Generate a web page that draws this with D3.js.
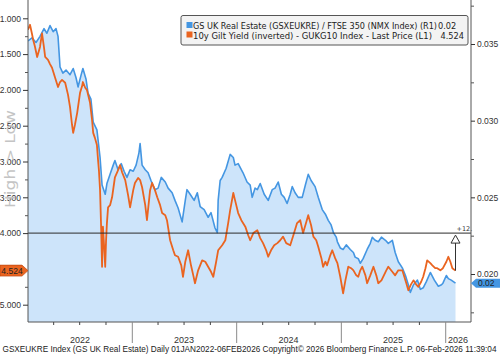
<!DOCTYPE html>
<html><head><meta charset="utf-8">
<script src="https://cdn.jsdelivr.net/npm/d3@7"></script>
<style>html,body{margin:0;padding:0;background:#fff;overflow:hidden}svg{display:block}</style>
</head><body><svg id="c" width="500" height="356"></svg>
<script>
// ---- data ----
const blueDates = ["2022-01-03","2022-01-17","2022-01-31","2022-02-14","2022-02-28","2022-03-10","2022-03-21","2022-04-01","2022-04-11","2022-04-18","2022-04-25","2022-05-05","2022-05-16","2022-05-30","2022-06-10","2022-06-20","2022-06-27","2022-07-08","2022-07-14","2022-07-25","2022-08-01","2022-08-11","2022-08-19","2022-09-01","2022-09-12","2022-09-19","2022-09-30","2022-10-06","2022-10-17","2022-10-28","2022-11-03","2022-11-14","2022-11-25","2022-12-05","2022-12-15","2022-12-26","2023-01-06","2023-01-16","2023-01-26","2023-01-30","2023-02-06","2023-02-17","2023-02-27","2023-03-09","2023-03-23","2023-04-03","2023-04-14","2023-04-28","2023-05-08","2023-05-22","2023-06-01","2023-06-12","2023-06-26","2023-07-07","2023-07-13","2023-07-24","2023-08-07","2023-08-18","2023-08-28","2023-09-11","2023-09-25","2023-10-05","2023-10-19","2023-10-27","2023-10-30","2023-11-06","2023-11-13","2023-11-27","2023-12-11","2023-12-22","2023-12-28","2024-01-08","2024-01-19","2024-01-25","2024-02-08","2024-02-19","2024-02-26","2024-03-07","2024-03-15","2024-03-25","2024-04-08","2024-04-22","2024-05-06","2024-05-16","2024-05-27","2024-06-07","2024-06-17","2024-06-27","2024-07-08","2024-07-15","2024-07-25","2024-08-05","2024-08-19","2024-08-30","2024-09-09","2024-09-19","2024-10-03","2024-10-14","2024-10-28","2024-11-08","2024-11-18","2024-11-28","2024-12-06","2024-12-16","2024-12-20","2024-12-30","2025-01-09","2025-01-20","2025-02-03","2025-02-14","2025-02-20","2025-03-03","2025-03-10","2025-03-20","2025-04-03","2025-04-14","2025-04-21","2025-05-01","2025-05-12","2025-05-23","2025-06-06","2025-06-16","2025-06-30","2025-07-10","2025-07-21","2025-08-04","2025-08-15","2025-08-25","2025-09-01","2025-09-12","2025-09-26","2025-10-06","2025-10-16","2025-10-27","2025-11-10","2025-11-24","2025-12-08","2025-12-19","2025-12-24","2026-01-05","2026-01-12","2026-01-22","2026-02-06"];
const blueValues = [0.0352,0.0354,0.0351,0.0355,0.0360,0.0357,0.0362,0.0358,0.0360,0.0355,0.0335,0.0331,0.0333,0.0330,0.0334,0.0328,0.0322,0.0330,0.0334,0.0327,0.0318,0.0314,0.0299,0.0294,0.0276,0.0258,0.0252,0.0259,0.0265,0.0271,0.0274,0.0268,0.0272,0.0267,0.0263,0.0268,0.0267,0.0271,0.0279,0.0285,0.0271,0.0268,0.0266,0.0261,0.0255,0.0256,0.0263,0.0260,0.0256,0.0253,0.0248,0.0243,0.0234,0.0248,0.0255,0.0252,0.0248,0.0253,0.0244,0.0242,0.0237,0.0240,0.0230,0.0227,0.0248,0.0261,0.0263,0.0269,0.0278,0.0276,0.0271,0.0272,0.0268,0.0266,0.0260,0.0258,0.0250,0.0256,0.0255,0.0259,0.0252,0.0248,0.0255,0.0256,0.0260,0.0252,0.0250,0.0246,0.0252,0.0257,0.0253,0.0250,0.0250,0.0258,0.0265,0.0261,0.0257,0.0250,0.0242,0.0239,0.0235,0.0232,0.0227,0.0224,0.0221,0.0217,0.0216,0.0219,0.0216,0.0214,0.0211,0.0210,0.0207,0.0210,0.0216,0.0220,0.0224,0.0222,0.0221,0.0224,0.0222,0.0220,0.0222,0.0214,0.0208,0.0204,0.0199,0.0193,0.0188,0.0193,0.0196,0.0190,0.0191,0.0195,0.0201,0.0196,0.0192,0.0193,0.0194,0.0199,0.0197,0.0196,0.0194];

const giltDates = ["2022-01-03","2022-01-10","2022-01-17","2022-01-21","2022-01-27","2022-02-04","2022-02-14","2022-02-21","2022-02-28","2022-03-04","2022-03-14","2022-03-21","2022-03-28","2022-04-07","2022-04-18","2022-04-25","2022-05-02","2022-05-13","2022-05-23","2022-05-30","2022-06-06","2022-06-10","2022-06-16","2022-06-24","2022-07-04","2022-07-11","2022-07-14","2022-07-22","2022-07-28","2022-08-08","2022-08-15","2022-08-19","2022-08-25","2022-09-01","2022-09-05","2022-09-08","2022-09-12","2022-09-16","2022-09-19","2022-09-22","2022-09-26","2022-09-30","2022-10-03","2022-10-06","2022-10-10","2022-10-17","2022-10-24","2022-11-03","2022-11-11","2022-11-21","2022-11-28","2022-12-09","2022-12-19","2022-12-26","2023-01-06","2023-01-12","2023-01-23","2023-01-30","2023-02-06","2023-02-17","2023-02-23","2023-03-06","2023-03-13","2023-03-23","2023-03-31","2023-04-10","2023-04-17","2023-04-28","2023-05-04","2023-05-15","2023-05-26","2023-06-01","2023-06-12","2023-06-23","2023-06-29","2023-07-07","2023-07-17","2023-07-27","2023-08-04","2023-08-10","2023-08-21","2023-09-04","2023-09-15","2023-09-25","2023-10-05","2023-10-13","2023-10-23","2023-10-30","2023-11-13","2023-11-24","2023-12-04","2023-12-11","2023-12-22","2023-12-28","2024-01-08","2024-01-19","2024-02-02","2024-02-12","2024-02-19","2024-03-01","2024-03-15","2024-03-25","2024-04-04","2024-04-15","2024-04-22","2024-05-02","2024-05-13","2024-05-24","2024-06-03","2024-06-13","2024-06-24","2024-07-08","2024-07-19","2024-08-01","2024-08-12","2024-08-22","2024-09-02","2024-09-09","2024-09-19","2024-09-27","2024-10-07","2024-10-14","2024-10-25","2024-10-31","2024-11-08","2024-11-14","2024-11-25","2024-12-02","2024-12-12","2024-12-20","2024-12-30","2025-01-09","2025-01-17","2025-01-27","2025-02-06","2025-02-14","2025-02-24","2025-03-03","2025-03-10","2025-03-17","2025-03-28","2025-04-03","2025-04-14","2025-04-25","2025-05-05","2025-05-12","2025-05-23","2025-05-29","2025-06-09","2025-06-16","2025-06-30","2025-07-10","2025-07-21","2025-08-04","2025-08-11","2025-08-18","2025-08-25","2025-09-03","2025-09-12","2025-09-22","2025-09-29","2025-10-09","2025-10-16","2025-10-24","2025-10-30","2025-11-10","2025-11-17","2025-11-27","2025-12-04","2025-12-15","2025-12-24","2026-01-05","2026-01-12","2026-01-19","2026-01-26","2026-02-06"];
const giltValues = [1.16,1.09,1.22,1.30,1.39,1.54,1.40,1.21,1.41,1.54,1.58,1.64,1.69,1.82,1.96,1.89,1.86,1.90,2.07,2.24,2.49,2.60,2.49,2.32,2.04,1.95,1.89,1.97,2.00,2.18,2.42,2.60,2.67,2.77,2.98,3.12,3.40,3.96,4.47,3.91,4.17,4.47,4.10,3.86,3.64,3.61,3.50,3.22,3.15,3.05,3.15,3.26,3.47,3.64,3.40,3.30,3.23,3.26,3.36,3.61,3.82,3.40,3.30,3.40,3.50,3.61,3.72,3.75,3.82,4.10,4.24,4.31,4.33,4.45,4.61,4.40,4.24,4.45,4.59,4.70,4.52,4.38,4.40,4.47,4.54,4.61,4.40,4.24,4.17,4.10,3.86,3.68,3.44,3.54,3.72,3.82,3.91,4.03,4.10,4.00,3.96,4.07,4.14,4.24,4.33,4.24,4.17,4.14,4.10,4.05,4.14,4.17,4.03,3.86,3.82,4.00,3.85,3.75,3.89,4.05,4.10,4.19,4.35,4.47,4.40,4.45,4.31,4.24,4.35,4.42,4.61,4.84,4.66,4.47,4.49,4.52,4.59,4.61,4.52,4.47,4.59,4.70,4.59,4.47,4.59,4.70,4.66,4.61,4.52,4.47,4.54,4.59,4.52,4.52,4.61,4.70,4.80,4.72,4.66,4.72,4.75,4.68,4.61,4.49,4.38,4.42,4.45,4.49,4.49,4.52,4.49,4.40,4.33,4.40,4.49,4.524];

const leftTicks = [1, 1.5, 2, 2.5, 3, 3.5, 4, 5];
const leftMinor = [1.25, 1.75, 2.25, 2.75, 3.25, 3.75, 4.75];
const rightTicks = [0.035, 0.030, 0.025, 0.020];
const rightMinor = [0.0375, 0.0325, 0.0275, 0.0225, 0.0175];
const yearStarts = ["2023-01-01","2024-01-01","2025-01-01","2026-01-01"];
const quarterTicks = ["2022-04-01","2022-07-01","2022-10-01","2023-04-01","2023-07-01","2023-10-01","2024-04-01","2024-07-01","2024-10-01","2025-04-01","2025-07-01","2025-10-01"];
const yearLabels = ["2022","2023","2024","2025","2026"];
const legendNames = ["GS UK Real Estate (GSXEUKRE) / FTSE 350 (NMX Index) (R1)", "10y Gilt Yield (inverted) - GUKG10 Index - Last Price (L1)"];
const legendLast = ["0.02", "4.524"];
const refLevel = 4.0;
const footer = "GSXEUKRE Index (GS UK Real Estate) Daily 01JAN2022-06FEB2026 Copyright\u00A9 2026 Bloomberg Finance L.P. 06-Feb-2026 11:39:04";

// ---- drawing ----
const BLUE = "#4496e2", ORANGE = "#ea6420", FILL = "#cde4fa";
const parse = d3.timeParse("%Y-%m-%d");
const blue = blueDates.map((d, i) => ({date: parse(d), v: blueValues[i]}));
const gilt = giltDates.map((d, i) => ({date: parse(d), v: giltValues[i]}));
const P = {l: 28, r: 471, t: 0, b: 322};

const svg = d3.select("#c");
const x = d3.scaleTime().domain([parse("2022-01-03"), parse("2026-02-06")]).range([28, 455.5]);
const yL = d3.scaleLinear().domain([1, 5]).range([18.3, 304.7]);
const yR = d3.scaleLinear().domain([0.020, 0.035]).range([274, 44]);

svg.append("defs").append("clipPath").attr("id", "clip")
  .append("rect").attr("x", P.l).attr("y", P.t).attr("width", P.r - P.l).attr("height", P.b - P.t);

const g = svg.append("g").attr("clip-path", "url(#clip)");
g.append("path").datum(blue).attr("fill", FILL)
  .attr("d", d3.area().x(d => x(d.date)).y0(P.b).y1(d => yR(d.v)));
g.append("path").datum(blue).attr("fill", "none").attr("stroke", BLUE).attr("stroke-width", 1.6)
  .attr("stroke-linejoin", "round")
  .attr("d", d3.line().x(d => x(d.date)).y(d => yR(d.v)));
g.append("path").datum(gilt).attr("fill", "none").attr("stroke", ORANGE).attr("stroke-width", 1.8)
  .attr("stroke-linejoin", "round")
  .attr("d", d3.line().x(d => x(d.date)).y(d => yL(d.v)));

// reference line at 4.000
svg.append("line").attr("x1", P.l).attr("x2", P.r).attr("y1", yL(refLevel)).attr("y2", yL(refLevel))
  .attr("stroke", "#2b2b2b").attr("stroke-width", 1);

// delta marker
const lastG = gilt[gilt.length - 1];
const mx = x(lastG.date);
svg.append("line").attr("x1", mx).attr("x2", mx).attr("y1", yL(refLevel) + 9).attr("y2", yL(lastG.v))
  .attr("stroke", "#333").attr("stroke-width", 1);
svg.append("path").attr("d", `M${mx},${yL(refLevel) + 2} L${mx + 4.5},${yL(refLevel) + 10} L${mx - 4.5},${yL(refLevel) + 10} Z`)
  .attr("fill", "#fff").attr("stroke", "#333").attr("stroke-width", 1);
svg.append("text").attr("x", mx + 1).attr("y", yL(refLevel) - 2).attr("font-family", "DejaVu Sans")
  .attr("font-size", 6.5).attr("fill", "#333").text("+12.");

const FONT = "Liberation Sans";
function styleAxis(sel) {
  sel.select(".domain").attr("stroke", "#555");
  sel.selectAll(".tick line").attr("stroke", "#333");
  sel.selectAll(".tick text").attr("font-family", FONT).attr("font-size", 8.5).attr("fill", "#333");
}
// left axis
const la = svg.append("g").attr("transform", `translate(${P.l},0)`)
  .call(d3.axisLeft(yL).tickValues(leftTicks).tickSize(5).tickPadding(2).tickFormat(d3.format(".3f")));
la.select(".domain").attr("d", `M0,${P.t}V${P.b}`);
styleAxis(la);
svg.append("g").attr("transform", `translate(${P.l},0)`)
  .call(d3.axisLeft(yL).tickValues(leftMinor).tickSize(3).tickFormat(""))
  .call(s => { s.select(".domain").remove(); s.selectAll("line").attr("stroke", "#555"); });

// right axis
const ra = svg.append("g").attr("transform", `translate(${P.r},0)`)
  .call(d3.axisRight(yR).tickValues(rightTicks).tickSize(4).tickPadding(2).tickFormat(d3.format(".3f")));
ra.select(".domain").attr("d", `M0,${P.t}V${P.b}`);
styleAxis(ra);
svg.append("g").attr("transform", `translate(${P.r},0)`)
  .call(d3.axisRight(yR).tickValues(rightMinor).tickSize(3).tickFormat(""))
  .call(s => { s.select(".domain").remove(); s.selectAll("line").attr("stroke", "#555"); });

// bottom axis
svg.append("line").attr("x1", P.l).attr("x2", P.r).attr("y1", P.b).attr("y2", P.b).attr("stroke", "#555");
svg.append("g").attr("transform", `translate(0,${P.b})`)
  .call(d3.axisBottom(x).tickValues(quarterTicks.map(parse)).tickSize(3).tickFormat(""))
  .call(s => { s.select(".domain").remove(); s.selectAll("line").attr("stroke", "#444"); });
svg.append("g").attr("transform", `translate(0,${P.b})`)
  .call(d3.axisBottom(x).tickValues(yearStarts.map(parse)).tickSize(21).tickFormat(""))
  .call(s => { s.select(".domain").remove(); s.selectAll("line").attr("stroke", "#8a8a8a"); });
const bounds = [P.l, ...yearStarts.map(d => x(parse(d))), P.r];
svg.append("g").selectAll("text").data(yearLabels).join("text")
  .attr("x", (d, i) => (bounds[i] + bounds[i + 1]) / 2).attr("y", 342.5)
  .attr("text-anchor", "middle").attr("font-family", FONT).attr("font-size", 9).attr("fill", "#333").text(d => d);

// High > Low
svg.append("text").attr("transform", "translate(15,159) rotate(-90)").attr("text-anchor", "middle")
  .attr("font-family", "DejaVu Sans").attr("font-size", 14).attr("fill", "#c4c4c4")
  .attr("textLength", 98).attr("lengthAdjust", "spacingAndGlyphs").text("High > Low");

// legend
const lg = svg.append("g");
lg.append("rect").attr("x", 181).attr("y", 15.5).attr("width", 287).attr("height", 29.5).attr("rx", 2)
  .attr("fill", "#f3f3f3").attr("stroke", "#555").attr("stroke-width", 1);
const lcol = [BLUE, ORANGE], lnameLen = [244, 239], ly = [29, 38.5];
legendNames.forEach((n, i) => {
  lg.append("rect").attr("x", 186.5).attr("y", ly[i] - 7).attr("width", 6).attr("height", 6).attr("fill", lcol[i]);
  lg.append("text").attr("x", 193).attr("y", ly[i]).attr("font-family", "DejaVu Sans").attr("font-size", 8.2)
    .attr("fill", "#222").attr("textLength", lnameLen[i]).attr("lengthAdjust", "spacingAndGlyphs").text(n);
});
lg.append("text").attr("x", 438).attr("y", ly[0]).attr("font-family", "DejaVu Sans").attr("font-size", 8.2).attr("fill", "#222").text(legendLast[0]);
lg.append("text").attr("x", 464).attr("y", ly[1]).attr("text-anchor", "end").attr("font-family", "DejaVu Sans").attr("font-size", 8.2).attr("fill", "#222").text(legendLast[1]);

// value tags
const ty = yL(lastG.v);
svg.append("path").attr("d", `M0,${ty - 5.5} H22 L28,${ty} L22,${ty + 5.5} H0 Z`).attr("fill", ORANGE).attr("stroke", "#b5410c").attr("stroke-width", 0.6);
svg.append("text").attr("x", 12).attr("y", ty + 3).attr("text-anchor", "middle").attr("font-family", FONT)
  .attr("font-size", 8.5).attr("fill", "#222").text(giltValues[giltValues.length - 1].toFixed(3));
const lastB = blue[blue.length - 1];
const by = yR(lastB.v);
svg.append("path").attr("d", `M${P.r},${by} L${P.r + 5},${by - 4.5} H500 V${by + 4.5} H${P.r + 5} Z`).attr("fill", BLUE);
svg.append("text").attr("x", 478).attr("y", by + 3).attr("font-family", FONT)
  .attr("font-size", 8.5).attr("fill", "#222").text(lastB.v.toFixed(2));

// footer
svg.append("text").attr("x", 2.5).attr("y", 352).attr("font-family", "Liberation Sans").attr("font-size", 8.2)
  .attr("fill", "#222").attr("textLength", 494).attr("lengthAdjust", "spacingAndGlyphs").text(footer);
</script></body></html>
